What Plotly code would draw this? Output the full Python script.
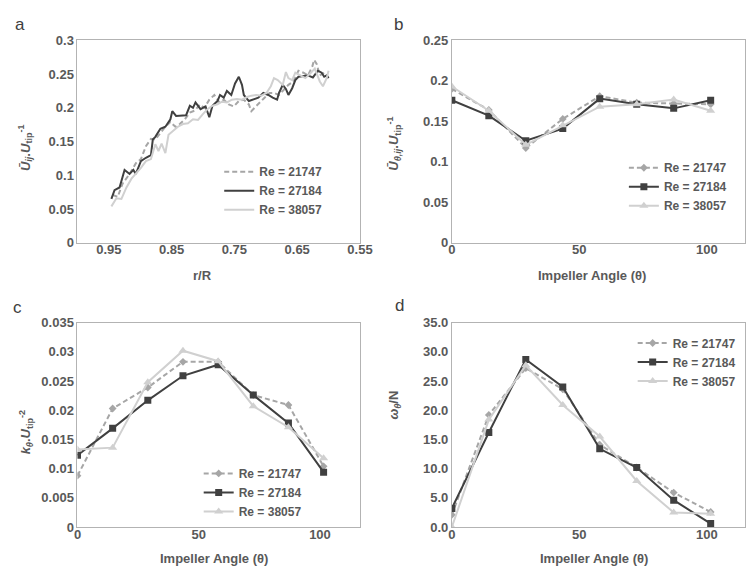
import plotly.graph_objects as go

W, H = 754, 567

# ---------- Panel a data (r/R vs U_ij/U_tip) ----------
a_x_21747 = [0.944, 0.936, 0.928, 0.917, 0.907, 0.899, 0.891, 0.883, 0.876, 0.868, 0.860, 0.852, 0.844, 0.837,
             0.829, 0.821, 0.813, 0.805, 0.798, 0.790, 0.782, 0.774, 0.767, 0.759, 0.751, 0.743, 0.735, 0.727,
             0.723, 0.718, 0.710, 0.702, 0.694, 0.687, 0.679, 0.671, 0.664, 0.656, 0.648, 0.640, 0.633, 0.626,
             0.623, 0.619, 0.614, 0.607, 0.601]
a_y_21747 = [0.071, 0.068, 0.088, 0.102, 0.118, 0.124, 0.143, 0.154, 0.153, 0.162, 0.172, 0.179, 0.172, 0.176,
             0.183, 0.193, 0.196, 0.205, 0.200, 0.212, 0.219, 0.208, 0.212, 0.205, 0.202, 0.210, 0.212, 0.205,
             0.195, 0.200, 0.208, 0.215, 0.222, 0.222, 0.219, 0.227, 0.234, 0.239, 0.255, 0.252, 0.248, 0.261,
             0.271, 0.265, 0.248, 0.252, 0.244]
a_x_27184 = [0.946, 0.941, 0.933, 0.925, 0.917, 0.911, 0.907, 0.899, 0.891, 0.883, 0.880, 0.876, 0.868, 0.860,
             0.852, 0.849, 0.843, 0.835, 0.827, 0.821, 0.816, 0.812, 0.804, 0.796, 0.790, 0.785, 0.777, 0.773,
             0.767, 0.762, 0.755, 0.749, 0.743, 0.738, 0.735, 0.727, 0.720, 0.712, 0.704, 0.696, 0.689, 0.682,
             0.679, 0.673, 0.668, 0.664, 0.658, 0.653, 0.648, 0.640, 0.633, 0.625, 0.617, 0.611, 0.607, 0.603,
             0.600]
a_y_27184 = [0.065, 0.078, 0.082, 0.108, 0.102, 0.108, 0.102, 0.121, 0.126, 0.130, 0.153, 0.157, 0.169, 0.172,
             0.183, 0.195, 0.188, 0.189, 0.189, 0.203, 0.200, 0.208, 0.198, 0.202, 0.186, 0.203, 0.210, 0.219,
             0.215, 0.225, 0.219, 0.236, 0.246, 0.234, 0.219, 0.210, 0.212, 0.215, 0.222, 0.219, 0.215, 0.212,
             0.222, 0.234, 0.228, 0.219, 0.229, 0.241, 0.246, 0.247, 0.248, 0.245, 0.255, 0.252, 0.246, 0.248,
             0.244]
a_x_38057 = [0.946, 0.938, 0.930, 0.922, 0.914, 0.907, 0.899, 0.891, 0.883, 0.876, 0.871, 0.866, 0.860, 0.855,
             0.847, 0.840, 0.832, 0.824, 0.816, 0.808, 0.801, 0.793, 0.785, 0.777, 0.770, 0.762, 0.754, 0.746,
             0.738, 0.730, 0.723, 0.715, 0.707, 0.699, 0.692, 0.687, 0.681, 0.673, 0.668, 0.664, 0.658, 0.653,
             0.645, 0.637, 0.629, 0.622, 0.614, 0.609, 0.603, 0.600]
a_y_38057 = [0.054, 0.066, 0.065, 0.082, 0.095, 0.102, 0.111, 0.121, 0.124, 0.146, 0.136, 0.147, 0.133, 0.160,
             0.167, 0.172, 0.176, 0.177, 0.183, 0.182, 0.190, 0.198, 0.203, 0.205, 0.209, 0.208, 0.212, 0.213,
             0.212, 0.216, 0.218, 0.219, 0.218, 0.222, 0.232, 0.244, 0.241, 0.234, 0.253, 0.244, 0.241, 0.252,
             0.248, 0.244, 0.251, 0.258, 0.239, 0.232, 0.244, 0.255]

# ---------- Panels b, c, d: impeller angle ----------
angles = [0, 14.5, 29, 43.5, 58, 72.5, 87, 101.5]

b_21747 = [0.190, 0.164, 0.117, 0.153, 0.181, 0.173, 0.172, 0.171]
b_27184 = [0.176, 0.157, 0.126, 0.141, 0.178, 0.171, 0.166, 0.176]
b_38057 = [0.193, 0.163, 0.121, 0.145, 0.168, 0.171, 0.177, 0.163]

c_21747 = [0.0088, 0.0203, 0.0239, 0.0283, 0.0283, 0.0226, 0.0209, 0.0104]
c_27184 = [0.0123, 0.0169, 0.0217, 0.0259, 0.0278, 0.0226, 0.0178, 0.0094]
c_38057 = [0.0133, 0.0136, 0.0248, 0.0302, 0.0284, 0.0207, 0.0171, 0.0118]

d_21747 = [2.1, 19.2, 27.2, 23.6, 14.1, 10.2, 5.9, 2.6]
d_27184 = [3.2, 16.2, 28.7, 24.0, 13.4, 10.2, 4.6, 0.6]
d_38057 = [0.0, 18.4, 27.7, 20.9, 15.5, 7.9, 2.5, 2.3]

series_names = ["Re = 21747", "Re = 27184", "Re = 38057"]

a_xticks = [0.95, 0.85, 0.75, 0.65, 0.55]
a_yticks = [0, 0.05, 0.1, 0.15, 0.2, 0.25, 0.3]
b_yticks = [0, 0.05, 0.1, 0.15, 0.2, 0.25]
c_yticks = [0, 0.005, 0.01, 0.015, 0.02, 0.025, 0.03, 0.035]
d_yticks = [0, 5, 10, 15, 20, 25, 30, 35]
ang_ticks = [0, 50, 100]

# ---------- styles ----------
C_DASH = "#a6a6a6"
C_DARK = "#404040"
C_LIGHT = "#d0d0d0"
TXT = "#595959"
FONT = "Liberation Sans, Arial, sans-serif"
AXLINE = "#b3b3b3"


def px_x(p):
    return p / W


def px_y(p):
    return 1 - p / H


fig = go.Figure()

# Panel a
for xs, ys, name, col, dash in [
    (a_x_21747, a_y_21747, series_names[0], C_DASH, "5px,3px"),
    (a_x_27184, a_y_27184, series_names[1], C_DARK, "solid"),
    (a_x_38057, a_y_38057, series_names[2], C_LIGHT, "solid"),
]:
    fig.add_trace(go.Scatter(x=xs, y=ys, mode="lines", name=name, xaxis="x", yaxis="y",
                             line=dict(color=col, width=2, dash=dash), legend="legend"))

marker_specs = [
    (series_names[0], C_DASH, "5px,3px", "diamond", 6),
    (series_names[1], C_DARK, "solid", "square", 7),
    (series_names[2], C_LIGHT, "solid", "triangle-up", 8),
]

for (ax, ay, leg, data) in [
    ("x2", "y2", "legend2", [b_21747, b_27184, b_38057]),
    ("x3", "y3", "legend3", [c_21747, c_27184, c_38057]),
    ("x4", "y4", "legend4", [d_21747, d_27184, d_38057]),
]:
    for ys, (name, col, dash, sym, sz) in zip(data, marker_specs):
        fig.add_trace(go.Scatter(x=angles, y=ys, mode="lines+markers", name=name, xaxis=ax, yaxis=ay,
                                 line=dict(color=col, width=2, dash=dash),
                                 marker=dict(symbol=sym, size=sz, color=col), legend=leg))

tickfont = dict(family=FONT, size=13, color=TXT, weight="bold")

common_ax = dict(showline=True, linecolor=AXLINE, linewidth=1, mirror=True, showgrid=False,
                 zeroline=False, ticks="", tickfont=tickfont)
xcommon = dict(common_ax, ticklabelstandoff=-5)

dom_left = [px_x(67), px_x(356)]
dom_right = [px_x(450), px_x(750)]
dom_top = [px_y(234), px_y(26)]
dom_bot = [px_y(526), px_y(316)]

legfont = dict(family=FONT, size=12, color=TXT, weight="bold")
legcommon = dict(font=legfont, bgcolor="rgba(0,0,0,0)", borderwidth=0, xanchor="left", yanchor="top",
                 tracegroupgap=0)

fig.update_layout(
    width=W, height=H, margin=dict(l=0, r=0, t=0, b=0),
    paper_bgcolor="white", plot_bgcolor="white",
    xaxis=dict(domain=dom_left, range=[1.0, 0.55], tickvals=a_xticks, tickformat=".2f",
               anchor="y", **xcommon),
    yaxis=dict(domain=dom_top, range=[0, 0.3], tickvals=a_yticks, anchor="x", **common_ax),
    xaxis2=dict(domain=dom_right, range=[0, 115], tickvals=ang_ticks, anchor="y2", **xcommon),
    yaxis2=dict(domain=dom_top, range=[0, 0.25], tickvals=b_yticks, anchor="x2", **common_ax),
    xaxis3=dict(domain=dom_left, range=[0, 116.5], tickvals=ang_ticks, anchor="y3", **xcommon),
    yaxis3=dict(domain=dom_bot, range=[0, 0.035], tickvals=c_yticks, anchor="x3", **common_ax),
    xaxis4=dict(domain=dom_right, range=[0, 115], tickvals=ang_ticks, anchor="y4", **xcommon),
    yaxis4=dict(domain=dom_bot, range=[0, 35], tickvals=d_yticks, tickformat=".1f", anchor="x4", **common_ax),
    legend=dict(x=px_x(212), y=px_y(146), **legcommon),
    legend2=dict(x=px_x(626), y=px_y(142), **legcommon),
    legend3=dict(x=px_x(191), y=px_y(456), **legcommon),
    legend4=dict(x=px_x(635), y=px_y(322), **legcommon),
    showlegend=True,
)

ann = []


def add_text(text, x, y, size=13, angle=0, color=TXT, weight="bold"):
    ann.append(dict(text=text, x=px_x(x), y=px_y(y), xref="paper", yref="paper", showarrow=False,
                    textangle=angle, xanchor="center", yanchor="middle",
                    font=dict(family=FONT, size=size, color=color, weight=weight)))


# panel letters
add_text("a", 8, 10, size=17, color="#404040", weight="normal")
add_text("b", 395, 10, size=17, color="#404040", weight="normal")
add_text("c", 6, 300, size=17, color="#404040", weight="normal")
add_text("d", 396, 298, size=17, color="#404040", weight="normal")

# x axis titles
add_text("r/R", 195, 268)
add_text("Impeller Angle (θ)", 593, 268)
add_text("Impeller Angle (θ)", 207, 558)
add_text("Impeller Angle (θ)", 595, 558)

# y axis titles
add_text("<i>Ū<sub>ij</sub></i>.<i>U</i><sub>tip</sub><sup>-1</sup>", 14, 136, angle=-90)
add_text("<i>Ū<sub>θ,ij</sub></i>.<i>U</i><sub>tip</sub><sup>-1</sup>", 390, 132, angle=-90)
add_text("<i>k<sub>θ</sub></i>.<i>U</i><sub>tip</sub><sup>-2</sup>", 14, 428, angle=-90)
add_text("<i>ω<sub>θ</sub></i>/N", 391, 401, angle=-90)

fig.update_layout(annotations=ann)

fig.write_html("out.html")
